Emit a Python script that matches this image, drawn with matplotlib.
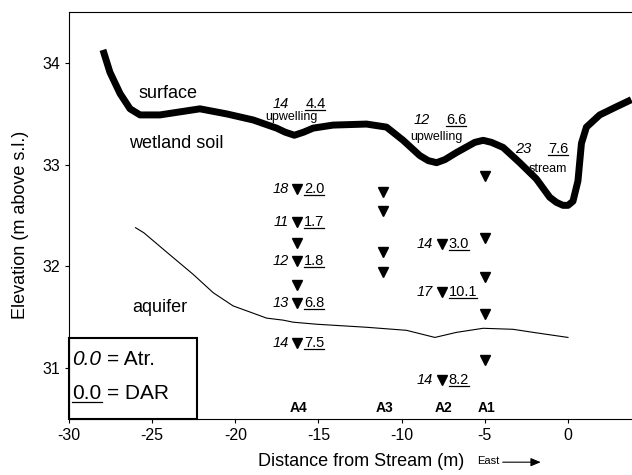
import matplotlib
matplotlib.use("Agg")
import matplotlib.pyplot as plt
from matplotlib.patches import Rectangle, FancyArrowPatch
from matplotlib.lines import Line2D

plt.rcParams['font.family'] = ['Liberation Sans', 'DejaVu Sans']
plt.rcParams['axes.unicode_minus'] = False

# ground surface (thick line)
surf_x = [-27.96, -27.54, -26.93, -26.33, -25.73, -24.53, -23.33, -22.13, -20.52,
          -18.92, -17.52, -17.0, -16.45, -15.9, -15.32, -14.12, -12.11, -10.91, -9.91,
          -8.91, -8.4, -7.90, -7.4, -6.70, -5.6, -5.10, -4.6, -3.90, -2.90, -1.90,
          -1.10, -0.7, -0.30, 0.0, 0.30, 0.60, 0.81, 1.11, 1.91, 2.91, 3.81]
surf_y = [34.13, 33.91, 33.70, 33.55, 33.49, 33.49, 33.52, 33.55, 33.50,
          33.44, 33.36, 33.32, 33.29, 33.32, 33.36, 33.39, 33.40, 33.37, 33.24,
          33.09, 33.04, 33.02, 33.05, 33.12, 33.22, 33.24, 33.22, 33.17, 33.02, 32.86,
          32.68, 32.63, 32.60, 32.60, 32.64, 32.84, 33.21, 33.37, 33.49, 33.57, 33.64]

# top of aquifer (thin line)
aq_x = [-26.0, -25.5, -24.13, -22.53, -21.33, -20.13, -19.12, -18.12, -17.12,
        -16.52, -15.12, -12.11, -9.71, -8.0, -6.70, -5.1, -3.3, -2.1, 0.0]
aq_y = [32.38, 32.33, 32.14, 31.92, 31.74, 31.61, 31.55, 31.49, 31.47,
        31.45, 31.43, 31.40, 31.37, 31.30, 31.35, 31.39, 31.38, 31.35, 31.30]

# piezometer nests
nest_names = ['A4', 'A3', 'A2', 'A1']
nest_x = [-16.3, -11.1, -7.6, -5.0]
a4_y = [32.76, 32.44, 32.23, 32.05, 31.82, 31.64, 31.25]
a3_y = [32.73, 32.54, 32.14, 31.94]
a2_y = [32.22, 31.75, 30.88]
a1_y = [32.89, 32.28, 31.89, 31.53, 31.08]
nest_y = [a4_y, a3_y, a2_y, a1_y]

# labelled piezometers: position, Atr. value, DAR value
lab_x = [-16.3, -16.3, -16.3, -16.3, -16.3, -7.6, -7.6, -7.6]
lab_y = [32.76, 32.44, 32.05, 31.64, 31.25, 32.22, 31.75, 30.88]
lab_atr = ['18', '11', '12', '13', '14', '14', '17', '14']
lab_dar = ['2.0', '1.7', '1.8', '6.8', '7.5', '3.0', '10.1', '8.2']

# surface-water samples
sw_x = [-16.3, -7.82, -1.7]
sw_y = [33.60, 33.44, 33.15]
sw_atr = ['14', '12', '23']
sw_dar = ['4.4', '6.6', '7.6']
sw_name = ['upwelling', 'upwelling', 'stream']
sw_name_x = [-16.63, -7.9, -1.21]
sw_name_y = [33.47, 33.27, 32.96]

fig = plt.figure(figsize=(6.32, 4.75), dpi=100)
ax = fig.add_axes([0.1092, 0.1185, 0.8908, 0.8556])

ax.plot(surf_x, surf_y, color='black', lw=5, solid_capstyle='butt', solid_joinstyle='round')
ax.plot(aq_x, aq_y, color='black', lw=0.8)

for xs, ys in zip(nest_x, nest_y):
    ax.plot([xs] * len(ys), ys, 'v', color='black', ms=7.5, ls='none')

underlined = []

for x, y, a, d in zip(lab_x, lab_y, lab_atr, lab_dar):
    ax.annotate(a, (x, y), xytext=(-6, 0), textcoords='offset points',
                ha='right', va='center', style='italic', fontsize=10.5)
    t = ax.annotate(d, (x, y), xytext=(5, 0), textcoords='offset points',
                    ha='left', va='center', fontsize=10.5)
    underlined.append(t)

for x, y, a, d, n, nx, ny in zip(sw_x, sw_y, sw_atr, sw_dar, sw_name, sw_name_x, sw_name_y):
    ax.annotate(a, (x, y), xytext=(-6, 0), textcoords='offset points',
                ha='right', va='center', style='italic', fontsize=10.5)
    t = ax.annotate(d, (x, y), xytext=(6, 0), textcoords='offset points',
                    ha='left', va='center', fontsize=10.5)
    underlined.append(t)
    ax.text(nx, ny, n, ha='center', va='center', fontsize=9)

for name, x in zip(nest_names, nest_x):
    ax.text(x + 0.1, 30.61, name, ha='center', va='center', fontsize=10, fontweight='bold')

ax.text(-25.85, 33.70, 'surface', ha='left', va='center', fontsize=13)
ax.text(-26.4, 33.21, 'wetland soil', ha='left', va='center', fontsize=13)
ax.text(-26.17, 31.59, 'aquifer', ha='left', va='center', fontsize=13)

# key box
ax.add_patch(Rectangle((-30, 30.5), 7.67, 0.79, fill=False, lw=1.5,
                       edgecolor='black', clip_on=False, zorder=5))
ax.text(-29.8, 31.08, '0.0', ha='left', va='center', fontsize=15, style='italic')
ax.text(-27.72, 31.08, '= Atr.', ha='left', va='center', fontsize=15)
t = ax.text(-29.8, 30.75, '0.0', ha='left', va='center', fontsize=15)
underlined.append(t)
ax.text(-27.72, 30.75, '= DAR', ha='left', va='center', fontsize=15)

ax.set_xlim(-30, 3.85)
ax.set_ylim(30.5, 34.5)
ax.set_xticks([-30, -25, -20, -15, -10, -5, 0])
ax.set_yticks([31, 32, 33, 34])
ax.tick_params(direction='out', length=3, width=0.8, labelsize=11.5)
ax.spines['right'].set_visible(False)
for s in ['left', 'top', 'bottom']:
    ax.spines[s].set_linewidth(0.8)

fig.text(0.032, 0.526, 'Elevation (m above s.l.)', rotation=90, ha='center', va='center', fontsize=13)
fig.text(0.5718, 0.028, 'Distance from Stream (m)', ha='center', va='center', fontsize=13)
fig.text(0.7543, 0.029, 'East', ha='left', va='center', fontsize=8)
fig.patches.append(FancyArrowPatch(
    (0.791, 0.027), (0.860, 0.027), transform=fig.transFigure,
    arrowstyle='-|>,head_length=6,head_width=2.5', color='black', lw=0.8))

# underline the DAR values
fig.canvas.draw()
renderer = fig.canvas.get_renderer()
inv = fig.transFigure.inverted()
for t in underlined:
    bb = t.get_window_extent(renderer)
    x0, y0 = inv.transform((bb.x0, bb.y0 + 1))
    x1, _ = inv.transform((bb.x1, bb.y0 + 1))
    fig.lines.append(Line2D([x0, x1], [y0, y0], transform=fig.transFigure,
                            color='black', lw=0.9))

fig.savefig('out.png', dpi=100)
